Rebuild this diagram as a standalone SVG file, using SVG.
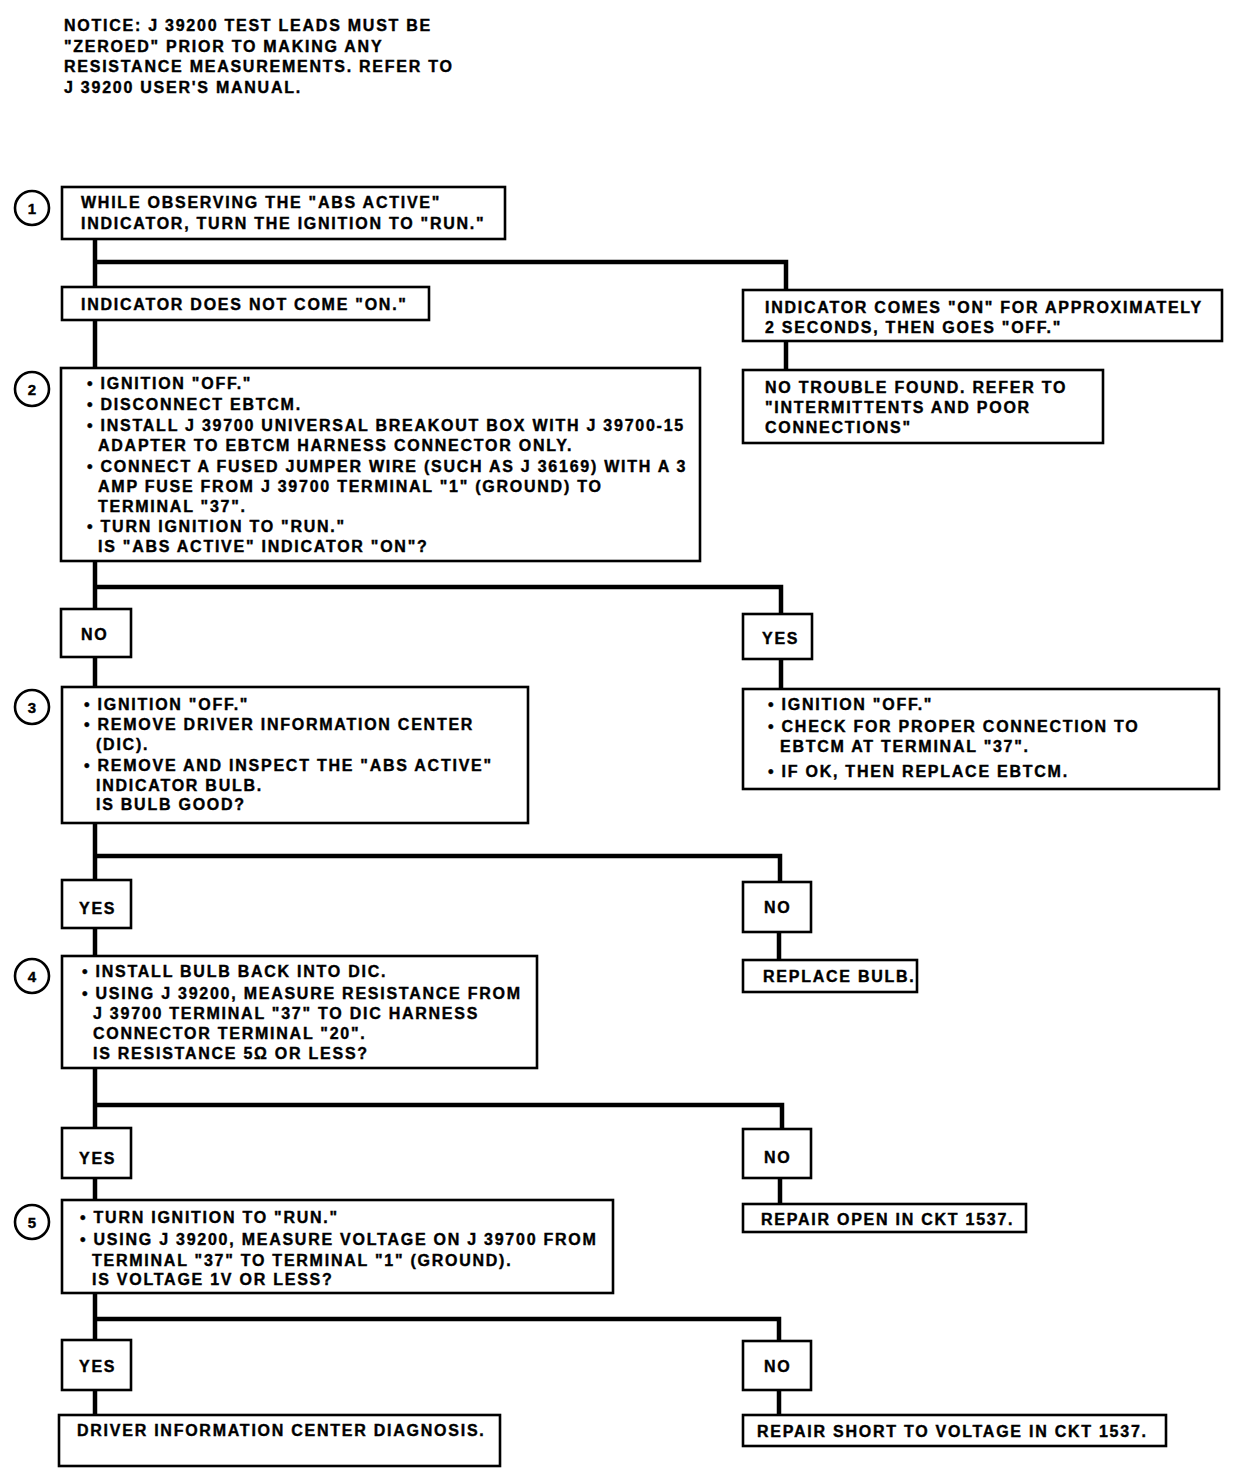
<svg xmlns="http://www.w3.org/2000/svg" width="1248" height="1474" viewBox="0 0 1248 1474">
<style>
text{font-family:"Liberation Sans",Arial,sans-serif;font-weight:700;font-size:16px;letter-spacing:1.75px;fill:#000;stroke:#000;stroke-width:0.4px}
.box{fill:#fff;stroke:#000;stroke-width:2.6}
.num{fill:#fff;stroke:#000;stroke-width:2.6}
.numt{font-size:15px;letter-spacing:0;text-anchor:middle}
.conn{fill:none;stroke:#000;stroke-width:4.5;stroke-linejoin:miter;stroke-linecap:butt}
</style>
<rect width="1248" height="1474" fill="#fff"/>
<g id="notice">
<text x="64" y="31">NOTICE: J 39200 TEST LEADS MUST BE</text>
<text x="64" y="52">"ZEROED" PRIOR TO MAKING ANY</text>
<text x="64" y="72">RESISTANCE MEASUREMENTS. REFER TO</text>
<text x="64" y="93">J 39200 USER'S MANUAL.</text>
</g>
<g id="connectors">
<path class="conn" d="M95 239 V1415"/>
<path class="conn" d="M95 262 H786 V290 M786 341 V370"/>
<path class="conn" d="M95 587 H781 V614 M781 659 V689"/>
<path class="conn" d="M95 856 H780 V882 M779 932 V960"/>
<path class="conn" d="M95 1105 H782 V1129 M780 1178 V1204"/>
<path class="conn" d="M95 1319 H779 V1341 M779 1390 V1415"/>
</g>
<g id="step1">
<circle class="num" cx="32" cy="208" r="17"/>
<text class="numt" x="32" y="214">1</text>
<rect class="box" x="62" y="187" width="443" height="52"/>
<text x="81" y="208">WHILE OBSERVING THE "ABS ACTIVE"</text>
<text x="81" y="229">INDICATOR, TURN THE IGNITION TO "RUN."</text>
</g>
<g id="not-on">
<rect class="box" x="62" y="287" width="367" height="33"/>
<text x="81" y="310">INDICATOR DOES NOT COME "ON."</text>
</g>
<g id="comes-on">
<rect class="box" x="743" y="290" width="479" height="51"/>
<text x="765" y="313">INDICATOR COMES "ON" FOR APPROXIMATELY</text>
<text x="765" y="333">2 SECONDS, THEN GOES "OFF."</text>
</g>
<g id="ntf">
<rect class="box" x="743" y="370" width="360" height="73"/>
<text x="765" y="393">NO TROUBLE FOUND. REFER TO</text>
<text x="765" y="413">"INTERMITTENTS AND POOR</text>
<text x="765" y="433">CONNECTIONS"</text>
</g>
<g id="step2">
<circle class="num" cx="32" cy="389" r="17"/>
<text class="numt" x="32" y="395">2</text>
<rect class="box" x="61" y="368" width="639" height="193"/>
<text x="87" y="389">• IGNITION "OFF."</text>
<text x="87" y="410">• DISCONNECT EBTCM.</text>
<text x="87" y="431">• INSTALL J 39700 UNIVERSAL BREAKOUT BOX WITH J 39700-15</text>
<text x="98" y="451">ADAPTER TO EBTCM HARNESS CONNECTOR ONLY.</text>
<text x="87" y="472">• CONNECT A FUSED JUMPER WIRE (SUCH AS J 36169) WITH A 3</text>
<text x="98" y="492">AMP FUSE FROM J 39700 TERMINAL "1" (GROUND) TO</text>
<text x="98" y="512">TERMINAL "37".</text>
<text x="87" y="532">• TURN IGNITION TO "RUN."</text>
<text x="98" y="552">IS "ABS ACTIVE" INDICATOR "ON"?</text>
</g>
<g id="no2">
<rect class="box" x="61" y="609" width="70" height="48"/>
<text x="81" y="640">NO</text>
</g>
<g id="yes2">
<rect class="box" x="743" y="614" width="69" height="45"/>
<text x="762" y="644">YES</text>
</g>
<g id="replace-ebtcm">
<rect class="box" x="743" y="689" width="476" height="100"/>
<text x="768" y="710">• IGNITION "OFF."</text>
<text x="768" y="732">• CHECK FOR PROPER CONNECTION TO</text>
<text x="780" y="752">EBTCM AT TERMINAL "37".</text>
<text x="768" y="777">• IF OK, THEN REPLACE EBTCM.</text>
</g>
<g id="step3">
<circle class="num" cx="32" cy="707" r="17"/>
<text class="numt" x="32" y="713">3</text>
<rect class="box" x="62" y="687" width="466" height="136"/>
<text x="84" y="710">• IGNITION "OFF."</text>
<text x="84" y="730">• REMOVE DRIVER INFORMATION CENTER</text>
<text x="96" y="750">(DIC).</text>
<text x="84" y="771">• REMOVE AND INSPECT THE "ABS ACTIVE"</text>
<text x="96" y="791">INDICATOR BULB.</text>
<text x="96" y="810">IS BULB GOOD?</text>
</g>
<g id="yes3">
<rect class="box" x="62" y="880" width="69" height="48"/>
<text x="79" y="914">YES</text>
</g>
<g id="no3">
<rect class="box" x="743" y="882" width="68" height="50"/>
<text x="764" y="913">NO</text>
</g>
<g id="replace-bulb">
<rect class="box" x="743" y="960" width="174" height="32"/>
<text x="763" y="982">REPLACE BULB.</text>
</g>
<g id="step4">
<circle class="num" cx="32" cy="976" r="17"/>
<text class="numt" x="32" y="982">4</text>
<rect class="box" x="62" y="956" width="475" height="112"/>
<text x="82" y="977">• INSTALL BULB BACK INTO DIC.</text>
<text x="82" y="999">• USING J 39200, MEASURE RESISTANCE FROM</text>
<text x="93" y="1019">J 39700 TERMINAL "37" TO DIC HARNESS</text>
<text x="93" y="1039">CONNECTOR TERMINAL "20".</text>
<text x="93" y="1059">IS RESISTANCE 5Ω OR LESS?</text>
</g>
<g id="yes4">
<rect class="box" x="62" y="1128" width="69" height="50"/>
<text x="79" y="1164">YES</text>
</g>
<g id="no4">
<rect class="box" x="743" y="1129" width="68" height="49"/>
<text x="764" y="1163">NO</text>
</g>
<g id="repair-open">
<rect class="box" x="743" y="1204" width="283" height="28"/>
<text x="761" y="1225">REPAIR OPEN IN CKT 1537.</text>
</g>
<g id="step5">
<circle class="num" cx="32" cy="1222" r="17"/>
<text class="numt" x="32" y="1228">5</text>
<rect class="box" x="62" y="1200" width="551" height="93"/>
<text x="80" y="1223">• TURN IGNITION TO "RUN."</text>
<text x="80" y="1245">• USING J 39200, MEASURE VOLTAGE ON J 39700 FROM</text>
<text x="92" y="1266">TERMINAL "37" TO TERMINAL "1" (GROUND).</text>
<text x="92" y="1285">IS VOLTAGE 1V OR LESS?</text>
</g>
<g id="yes5">
<rect class="box" x="62" y="1340" width="69" height="50"/>
<text x="79" y="1372">YES</text>
</g>
<g id="no5">
<rect class="box" x="743" y="1341" width="68" height="49"/>
<text x="764" y="1372">NO</text>
</g>
<g id="dic-diagnosis">
<rect class="box" x="59" y="1415" width="441" height="51"/>
<text x="77" y="1436">DRIVER INFORMATION CENTER DIAGNOSIS.</text>
</g>
<g id="repair-short">
<rect class="box" x="743" y="1415" width="423" height="31"/>
<text x="757" y="1437">REPAIR SHORT TO VOLTAGE IN CKT 1537.</text>
</g>
</svg>
